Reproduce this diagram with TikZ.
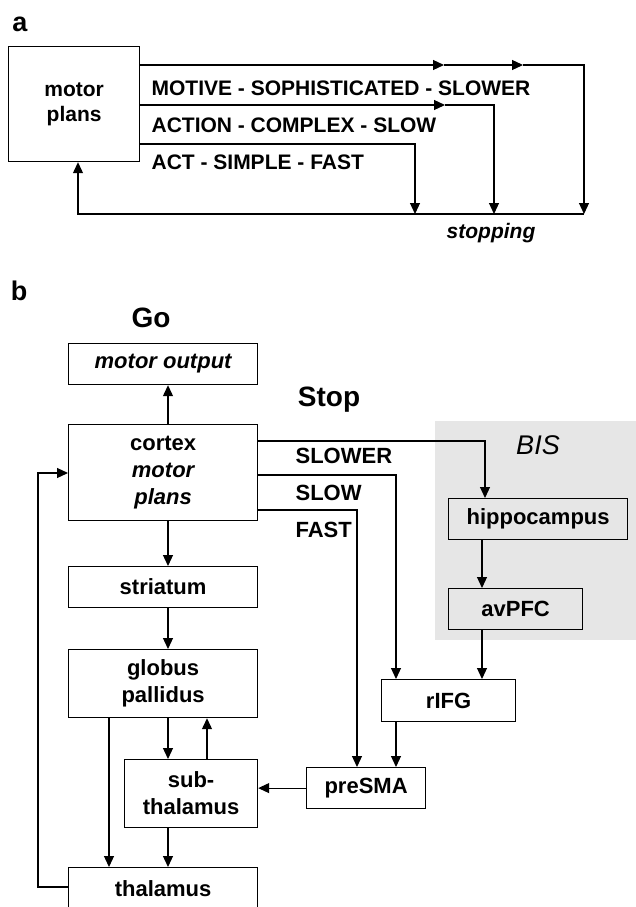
\documentclass[tikz,border=0pt]{standalone}
\usepackage{fontspec}
\setmainfont{Liberation Sans}
\usetikzlibrary{arrows.meta}
\definecolor{bisgray}{HTML}{E6E6E6}
\begin{document}
\begin{tikzpicture}[x=1pt,y=-1pt,
  line width=1.2pt,
  >={Triangle[length=11pt,width=10pt]},
  box/.style={draw, line width=1.2pt, inner sep=0pt, anchor=north west,
    align=center, font=\fontsize{22}{27}\selectfont\bfseries},
  abox/.style={box, font=\fontsize{21}{25}\selectfont\bfseries},
  gbox/.style={box, fill=bisgray},
  lbl/.style={anchor=base west, inner sep=0pt, font=\fontsize{21}{25}\selectfont\bfseries},
  blbl/.style={anchor=center, inner sep=0pt, font=\fontsize{22}{27}\selectfont\bfseries},
  head/.style={anchor=center, inner sep=0pt, font=\fontsize{28}{32}\selectfont\bfseries},
  panel/.style={anchor=center, inner sep=0pt, font=\fontsize{27}{30}\selectfont\bfseries}]
\useasboundingbox (0,0) rectangle (636,907);
\clip (0,0) rectangle (636,907);

% ---------------- panel a ----------------
\node[panel] (pa) at (20,24) {a};
\node[abox, minimum width=131, minimum height=115] (mp) at (8,46) {motor\\plans};

\node[lbl] (t1) at (151,95) {MOTIVE - SOPHISTICATED - SLOWER};
\node[lbl] (t2) at (151,132) {ACTION - COMPLEX - SLOW};
\node[lbl] (t3) at (151,169) {ACT - SIMPLE - FAST};

\coordinate (m1) at (444,65);
\coordinate (m2) at (523,65);
\coordinate (r1) at (584,65);
\coordinate (m3) at (445,105);
\coordinate (r2) at (494,105);
\coordinate (r3) at (415,144);
\coordinate (d1) at (584,214);
\coordinate (d2) at (494,214);
\coordinate (d3) at (415,214);
\coordinate (d0) at (78,214);

\draw[->] (mp.east |- m1) -- (m1);
\draw[->] (m1) -- (m2);
\draw[->] (m2) -- (r1) -- (d1);
\draw[->] (mp.east |- m3) -- (m3);
\draw[->] (m3) -- (r2) -- (d2);
\draw[->] (mp.east |- r3) -- (r3) -- (d3);
\draw[->] (d1) -- (d0) -- (mp.south -| d0);

\node[anchor=center, inner sep=0pt, font=\fontsize{21}{25}\selectfont\bfseries\itshape] (stp) at (491,233) {stopping};

% ---------------- panel b ----------------
\node[panel] (pb) at (19,291) {b};
\node[head] (go) at (151,318) {Go};
\node[head] (stop) at (329,400) {Stop};

\fill[bisgray] (435,421) rectangle (636,640);
\node[anchor=center, inner sep=0pt, font=\fontsize{27}{30}\selectfont\itshape] (bis) at (538,445) {BIS};

\node[box, minimum width=189, minimum height=41] (mo) at (68,343) {\itshape motor output};
\node[box, minimum width=189, minimum height=96] (cx) at (68,424) {cortex\\\itshape motor\\\itshape plans};
\node[box, minimum width=189, minimum height=41] (st) at (68,566) {striatum};
\node[box, minimum width=189, minimum height=68] (gp) at (68,649) {globus\\pallidus};
\node[box, minimum width=133, minimum height=68] (stn) at (124,759) {sub-\\thalamus};
\node[box, minimum width=189, minimum height=42] (th) at (68,867) {thalamus};

\node[gbox, minimum width=179, minimum height=41] (hc) at (448,498) {hippocampus};
\node[gbox, minimum width=134, minimum height=41] (pfc) at (448,588) {avPFC};
\node[box, minimum width=134, minimum height=42] (ifg) at (381,679) {rIFG};
\node[box, minimum width=119, minimum height=41] (sma) at (306,767) {preSMA};

\node[blbl, anchor=west] (ls1) at (295,456) {SLOWER};
\node[blbl, anchor=west] (ls2) at (295,493) {SLOW};
\node[blbl, anchor=west] (ls3) at (295,530) {FAST};

% columns used by the vertical connectors
\coordinate (xa) at (168,0);
\coordinate (xb) at (207,0);
\coordinate (xc) at (109,0);
\coordinate (xs) at (357,0);
\coordinate (xw) at (396,0);
\coordinate (xr) at (485,0);
\coordinate (xp) at (482,0);

% go pathway
\draw[->] (cx.north -| xa) -- (mo.south -| xa);
\draw[->] (cx.south -| xa) -- (st.north -| xa);
\draw[->] (st.south -| xa) -- (gp.north -| xa);
\draw[->] (gp.south -| xa) -- (stn.north -| xa);
\draw[->] (stn.north -| xb) -- (gp.south -| xb);
\draw[->] (gp.south -| xc) -- (th.north -| xc);
\draw[->] (stn.south -| xa) -- (th.north -| xa);
\coordinate (fb1) at (38,887);
\coordinate (fb2) at (38,473);
\draw[->] (th.west |- fb1) -- (fb1) -- (fb2) -- (cx.west |- fb2);

% stop pathways
\coordinate (sw) at (485,441);
\coordinate (sl) at (396,475);
\coordinate (sf) at (357,510);
\draw[->] (cx.east |- sw) -- (sw) -- (hc.north -| xr);
\draw[->] (cx.east |- sl) -- (sl) -- (ifg.north -| xw);
\draw[->] (cx.east |- sf) -- (sf) -- (sma.north -| xs);
\draw[->] (hc.south -| xp) -- (pfc.north -| xp);
\draw[->] (pfc.south -| xp) -- (ifg.north -| xp);
\draw[->] (ifg.south -| xw) -- (sma.north -| xw);
\draw[->] (sma.west) -- (stn.east |- sma.west);
\end{tikzpicture}
\end{document}
